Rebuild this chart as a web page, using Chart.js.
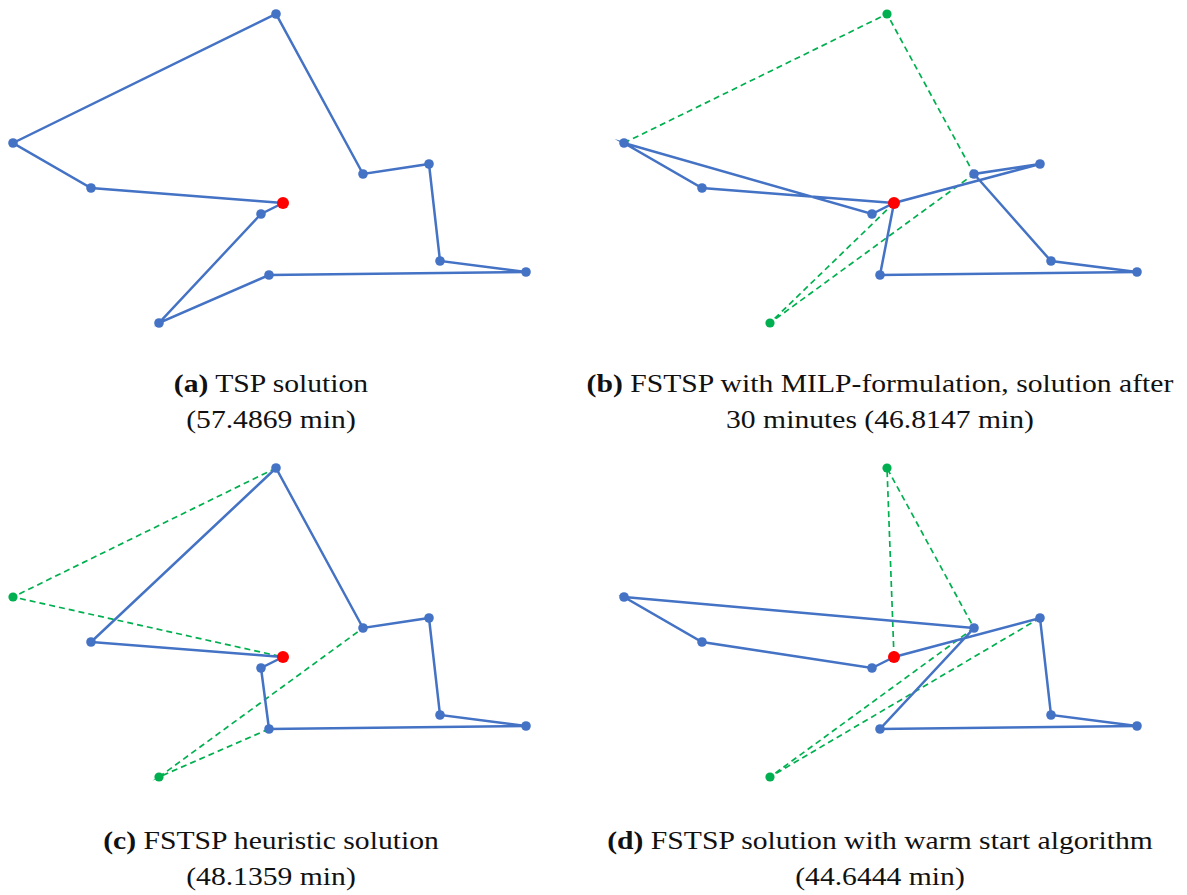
<!DOCTYPE html>
<html>
<head>
<meta charset="utf-8">
<script src="https://cdn.jsdelivr.net/npm/chart.js@4.4.1/dist/chart.umd.min.js"></script>
<style>
  html, body { margin: 0; padding: 0; background: #ffffff; }
  #wrap { position: relative; width: 1187px; height: 895px; overflow: hidden; background: #fff; }
  canvas.panel { position: absolute; }
  .cap { position: absolute; width: 600px; text-align: center; font-family: "Liberation Serif", "Times New Roman", serif;
         font-size: 26px; line-height: 36px; color: #111; white-space: nowrap; transform: scaleX(1.14); transform-origin: center; }
  .cap b { font-weight: bold; }
</style>
</head>
<body>
<div id="wrap">
  <canvas id="pa" class="panel" width="560" height="340" style="left:0px;top:0px;"></canvas>
  <canvas id="pb" class="panel" width="560" height="340" style="left:611px;top:0px;"></canvas>
  <canvas id="pc" class="panel" width="560" height="340" style="left:0px;top:454px;"></canvas>
  <canvas id="pd" class="panel" width="560" height="340" style="left:611px;top:454px;"></canvas>
  <div class="cap" style="left:-29px;top:366px;"><b>(a)</b> TSP solution<br>(57.4869 min)</div>
  <div class="cap" style="left:580px;top:366px;"><b>(b)</b> FSTSP with MILP-formulation, solution after<br>30 minutes (46.8147 min)</div>
  <div class="cap" style="left:-29px;top:823px;"><b>(c)</b> FSTSP heuristic solution<br>(48.1359 min)</div>
  <div class="cap" style="left:580px;top:823px;"><b>(d)</b> FSTSP solution with warm start algorithm<br>(44.6444 min)</div>
</div>
<script>
// Node coordinates (0 = depot, 1..10 = customers)
const nodeNames = ['Depot', 'C1', 'C2', 'C3', 'C4', 'C5', 'C6', 'C7', 'C8', 'C9', 'C10'];
const nodeX = [283, 276, 13, 91, 261, 363, 429, 440, 526, 269, 159];
const nodeY = [137, 326, 197, 152, 126, 166, 176, 79, 68, 65, 17];

// Truck routes (sequence of node indices)
const truckA = [0, 4, 10, 9, 8, 7, 6, 5, 1, 2, 3, 0];
const truckB = [0, 3, 2, 4, 0, 6, 5, 7, 8, 9, 0];
const truckC = [0, 4, 9, 8, 7, 6, 5, 1, 3, 0];
const truckD = [0, 4, 3, 2, 5, 9, 8, 7, 6, 0];

// Drone sorties: [launch, customer, rendezvous]
const dronesA = [];
const dronesB = [[2, 1, 5], [0, 10, 5]];
const dronesC = [[1, 2, 0], [9, 10, 5]];
const dronesD = [[0, 1, 5], [5, 10, 6]];

const BLUE = '#4472C4', GREEN = '#00B050', RED = '#FF0000';

function pts(seq) { return seq.map(i => ({ x: nodeX[i], y: nodeY[i] })); }

function build(canvasId, truck, drones) {
  const datasets = [];
  datasets.push({
    label: 'Depot', data: pts([0]), showLine: false,
    pointRadius: 6, pointBackgroundColor: RED, pointBorderColor: RED, pointBorderWidth: 0
  });
  datasets.push({
    label: 'Truck', data: pts(truck), showLine: true, tension: 0,
    borderColor: BLUE, borderWidth: 2.5, pointRadius: 4.8,
    pointBackgroundColor: BLUE, pointBorderColor: BLUE, pointBorderWidth: 0
  });
  drones.forEach((s, k) => {
    datasets.push({
      label: 'Drone ' + (k + 1), data: pts(s), showLine: true, tension: 0,
      borderColor: GREEN, borderWidth: 1.7, borderDash: [6, 4],
      pointRadius: [0, 4.6, 0], pointBackgroundColor: GREEN, pointBorderColor: GREEN, pointBorderWidth: 0
    });
  });
  new Chart(document.getElementById(canvasId), {
    type: 'scatter',
    data: { datasets },
    options: {
      responsive: false, animation: false, devicePixelRatio: 1,
      layout: { padding: 0, autoPadding: false },
      plugins: { legend: { display: false }, tooltip: { enabled: false } },
      scales: {
        x: { type: 'linear', min: 0, max: 560, display: false },
        y: { type: 'linear', min: 0, max: 340, display: false }
      }
    }
  });
}

build('pa', truckA, dronesA);
build('pb', truckB, dronesB);
build('pc', truckC, dronesC);
build('pd', truckD, dronesD);
</script>
</body>
</html>
